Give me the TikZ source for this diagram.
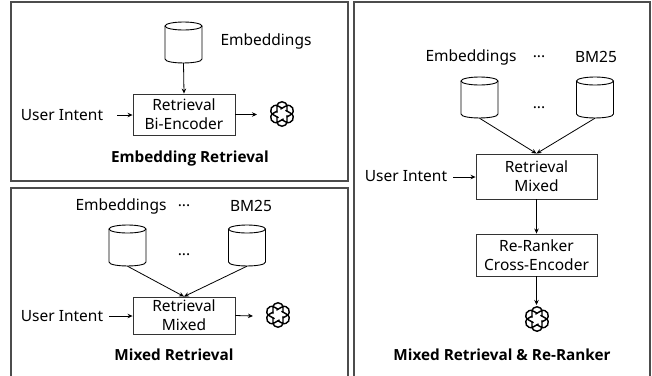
\documentclass[tikz,border=0pt]{standalone}
\usepackage{fontspec}
\setmainfont{Noto Sans}
\newfontfamily\ttlfont{Open Sans}[BoldFont={Open Sans Bold}]
\usetikzlibrary{arrows.meta}
\tikzset{>=stealth}
\tikzset{
    panel/.style={draw=black!70, line width=1.3pt},
    box/.style={draw=black!80, line width=0.9pt, align=center, inner sep=0pt, font=\fontsize{15.5}{19}\selectfont},
    lbl/.style={inner sep=0pt, font=\fontsize{15.5}{18}\selectfont},
    ttl/.style={inner sep=0pt, font=\ttlfont\fontsize{15.3}{18}\selectfont\bfseries},
    link/.style={->, line width=0.8pt, >={Stealth[length=5pt,width=4.5pt]}},
    can/.pic={
        \node[minimum width=37pt, minimum height=41pt, inner sep=0pt] (-n) at (0,0) {};
        \draw[line width=0.9pt] (-18.5,-16.5) -- (-18.5,16.5) .. controls (-18.5,21.8) and (18.5,21.8) .. (18.5,16.5) -- (18.5,-16.5);
        \draw[line width=0.9pt] (0,-16.5) ellipse [x radius=18.5, y radius=4];
    },
    logo/.pic={
        \foreach \a in {0,60,...,300}
            \draw[rotate=\a, line width=1.45pt, line cap=round]
                (-5,-1.5) -- (-5,-7) .. controls (-5,-14) and (5,-14) .. (5,-7) -- (5,-3);
    }
}

\begin{document}
\begin{tikzpicture}[x=1pt, y=-1pt]
    \useasboundingbox (0,0) rectangle (652,375);
    \draw[panel] (11,2) rectangle (348,181);
    \draw[panel] (11,376) -- (11,188) -- (348,188) -- (348,376);
    \draw[panel] (354,376) -- (354,2) -- (650,2) -- (650,376);

    % embedding retrieval
    \pic (dba) at (183.5,42.5) {can};
    \node[lbl] (emba) at (266,41) {Embeddings};
    \node[box, minimum width=102pt, minimum height=41pt] (reta) at (184,114.5) {Retrieval\\Bi-Encoder};
    \node[lbl] (usera) at (62,115) {User Intent};
    \coordinate (ina) at (117,115);
    \coordinate (outa) at (257,114.5);
    \pic at (282,114) {logo};
    \node[ttl] (ttla) at (190,159) {Embedding Retrieval};
    \draw[link] (dba-n.south) -- (reta.north);
    \draw[link] (ina) -- (reta.west |- ina);
    \draw[link] (reta.east) -- (outa);

    % mixed retrieval
    \node[lbl] (embb) at (121,206) {Embeddings};
    \node[lbl] (dotsb) at (184,206) {...};
    \node[lbl] (bmb) at (251,206) {BM25};
    \pic (dbb) at (127.5,245.5) {can};
    \pic (dbc) at (247,245.5) {can};
    \node[lbl] (dotsc) at (184,255) {...};
    \node[box, minimum width=102pt, minimum height=37pt] (retb) at (184,315.5) {Retrieval\\Mixed};
    \node[lbl] (userb) at (62,316) {User Intent};
    \coordinate (inb) at (109,316);
    \coordinate (outb) at (253,316);
    \pic at (278,315) {logo};
    \node[ttl] (ttlb) at (174,355) {Mixed Retrieval};
    \draw[link] (dbb-n.south) -- (retb.north);
    \draw[link] (dbc-n.south) -- (retb.north);
    \draw[link] (inb) -- (retb.west |- inb);
    \draw[link] (retb.east) -- (outb);

    % mixed retrieval and re-ranker
    \node[lbl] (embc) at (471,57) {Embeddings};
    \node[lbl] (dotsd) at (539,57) {...};
    \node[lbl] (bmc) at (596,57) {BM25};
    \pic (dbd) at (479.5,97.5) {can};
    \pic (dbe) at (595,97.5) {can};
    \node[lbl] (dotse) at (539,108) {...};
    \node[box, minimum width=121pt, minimum height=45pt] (retc) at (536.5,176.5) {Retrieval\\Mixed};
    \node[box, minimum width=121pt, minimum height=42pt] (rank) at (536.5,255) {Re-Ranker\\Cross-Encoder};
    \node[lbl] (userc) at (406,176) {User Intent};
    \coordinate (inc) at (453,177);
    \coordinate (outc) at (536.5,305);
    \pic at (537,319) {logo};
    \node[ttl] (ttlc) at (502,355) {Mixed Retrieval \& Re-Ranker};
    \draw[link] (dbd-n.south) -- (retc.north);
    \draw[link] (dbe-n.south) -- (retc.north);
    \draw[link] (inc) -- (retc.west |- inc);
    \draw[link] (retc.south) -- (rank.north);
    \draw[link] (rank.south) -- (outc);
\end{tikzpicture}
\end{document}
